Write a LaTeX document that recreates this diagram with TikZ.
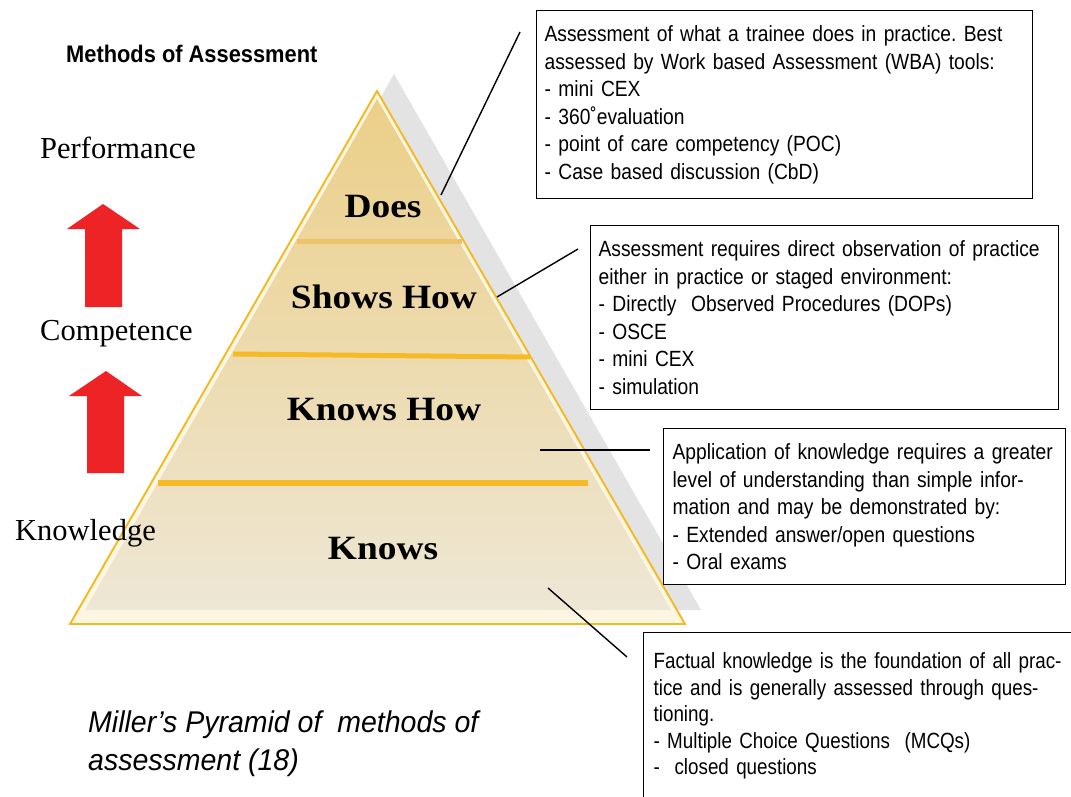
\documentclass[tikz,border=0pt]{standalone}
\usepackage{fontspec}
\setmainfont{Liberation Serif}
\newfontfamily\boxfont[FakeStretch=0.875]{Liberation Sans}
\newfontfamily\boxfontn[FakeStretch=0.855]{Liberation Sans}
\newfontfamily\titlefont[FakeStretch=0.91]{Liberation Sans}
\newfontfamily\captfont[FakeStretch=0.95]{Liberation Sans}
\newfontfamily\layerfont[FakeStretch=1.1]{Liberation Serif}
\frenchspacing
\definecolor{pyrline}{HTML}{F5B921}
\definecolor{pyrtop}{HTML}{ECCF88}
\definecolor{pyrbot}{HTML}{EEE7D5}
\definecolor{pyrbase}{HTML}{FDF6E3}
\definecolor{shadowgray}{HTML}{E3E3E3}
\definecolor{arrowred}{HTML}{EE2326}
\definecolor{bandlight}{HTML}{EBC36B}
\definecolor{banddark}{HTML}{F5BA26}
\tikzset{
  infobox/.style={draw=black, line width=1.3pt, fill=white, anchor=north west,
    align=left, inner xsep=8pt, inner ysep=15pt,
    font=\boxfont\frenchspacing\fontsize{22}{27.5}\selectfont},
  conn/.style={draw=black, line width=1.4pt},
  layerlabel/.style={anchor=base, inner sep=0pt,
    font=\layerfont\bfseries\fontsize{34}{40}\selectfont},
  sidelabel/.style={anchor=base west, inner sep=0pt,
    font=\fontsize{30.5}{36}\selectfont},
  redarrow/.style={fill=arrowred}
}
\begin{document}
\begin{tikzpicture}[x=1pt,y=-1pt]
\useasboundingbox (0,0) rectangle (1071,797);
\fill[white] (0,0) rectangle (1071,797);

% shadow
\fill[shadowgray] (394,74) -- (701,610) -- (90,610) -- cycle;
% pyramid
\filldraw[fill=pyrbase, draw=pyrline, line width=1.6pt] (377,91) -- (685,624) -- (70,624) -- cycle;
\shade[top color=pyrtop, bottom color=pyrbot] (377,99) -- (671,610) -- (85,610) -- cycle;
\draw[pyrline, line width=1.6pt] (377,91) -- (685,624) -- (70,624) -- cycle;
% bands
\draw[bandlight, line width=5pt] (297,241) -- (462,241);
\draw[banddark, line width=5pt] (233,354) -- (530,357);
\draw[banddark, line width=6pt] (158,483) -- (588,483);

% layer labels
\node[layerlabel] (does) at (383,217) {Does};
\node[layerlabel] (shows) at (384,308) {Shows How};
\node[layerlabel] (knowshow) at (384,420) {Knows How};
\node[layerlabel] (knows) at (383,559) {Knows};

% side labels
\node[sidelabel] (perf) at (40,158) {Performance};
\node[sidelabel] (comp) at (40,340) {Competence};
\node[sidelabel] (know) at (15,540) {Knowledge};

% red arrows
\fill[redarrow] (103,204) -- (140,229) -- (122,229) -- (122,307) -- (85,307) -- (85,229) -- (67,229) -- cycle;
\fill[redarrow] (106,371) -- (142,396) -- (124,396) -- (124,473) -- (87,473) -- (87,396) -- (69,396) -- cycle;

% title
\node[anchor=base west, inner sep=0pt, font=\titlefont\bfseries\fontsize{24}{28}\selectfont] (title) at (66,63) {Methods of Assessment};

% caption
\node[anchor=north west, inner sep=0pt, align=left, font=\captfont\itshape\fontsize{30}{38}\selectfont] (caption) at (88,711) {Miller’s Pyramid of\ \ methods of\\assessment (18)};

% boxes
\node[infobox, text width=480pt] (b1) at (536,10) {Assessment of what a trainee does in practice. Best\\
assessed by Work based Assessment (WBA) tools:\\
- mini CEX\\
- 360˚evaluation\\
- point of care competency (POC)\\
- Case based discussion (CbD)};

\node[infobox, text width=452pt] (b2) at (590,225) {Assessment requires direct observation of practice\\
either in practice or staged environment:\\
- Directly\ \ Observed Procedures (DOPs)\\
- OSCE\\
- mini CEX\\
- simulation};

\node[infobox, inner xsep=9pt, text width=384pt] (b3) at (663,428) {Application of knowledge requires a greater\\
level of understanding than simple infor-\\
mation and may be demonstrated by:\\
- Extended answer/open questions\\
- Oral exams};

\node[infobox, inner xsep=10pt, inner ysep=20pt, text width=440pt, font=\boxfontn\frenchspacing\fontsize{22}{26.5}\selectfont] (b4) at (643,632) {Factual knowledge is the foundation of all prac-\\
tice and is generally assessed through ques-\\
tioning.\\
- Multiple Choice Questions\ \ (MCQs)\\
-\ \ closed questions\\[40pt]\mbox{}};

% connectors
\coordinate (c1a) at (441,195); \coordinate (c1b) at (520,32);
\coordinate (c2a) at (497,297); \coordinate (c2b) at (578,249);
\coordinate (c3a) at (540,450); \coordinate (c3b) at (650,450);
\coordinate (c4a) at (548,588); \coordinate (c4b) at (627,657);
\draw[conn] (c1a) -- (c1b);
\draw[conn] (c2a) -- (c2b);
\draw[conn] (c3a) -- (c3b);
\draw[conn] (c4a) -- (c4b);
\end{tikzpicture}
\end{document}
